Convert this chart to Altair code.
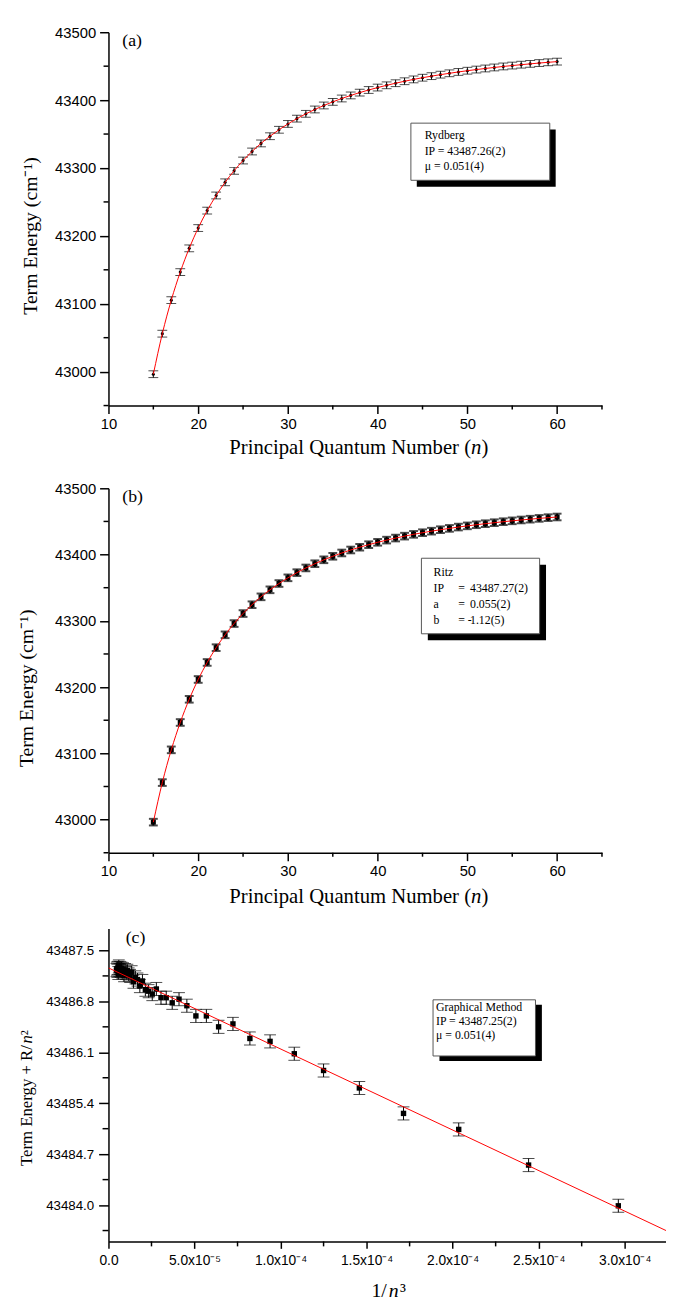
import altair as alt
import pandas as pd

# ---------------- data ----------------
n_values = [15, 16, 17, 18, 19, 20, 21, 22, 23, 24, 25, 26, 27, 28, 29, 30,
            31, 32, 33, 34, 35, 36, 37, 38, 39, 40, 41, 42, 43, 44, 45, 46,
            47, 48, 49, 50, 51, 52, 53, 54, 55, 56, 57, 58, 59, 60]

term_energy = [42996.2, 43055.9, 43105.3, 43146.6, 43181.6, 43211.5, 43237.2, 43259.5,
               43278.9, 43295.9, 43311.0, 43324.3, 43336.2, 43346.8, 43356.3, 43364.9,
               43372.7, 43379.8, 43386.2, 43392.1, 43397.4, 43402.4, 43406.9, 43411.1,
               43414.9, 43418.5, 43421.8, 43424.9, 43427.8, 43430.5, 43433.0, 43435.3,
               43437.5, 43439.5, 43441.5, 43443.3, 43445.0, 43446.6, 43448.1, 43449.6,
               43450.9, 43452.2, 43453.4, 43454.6, 43455.7, 43456.7]
term_energy_err = 5.0

# panel (c): Term energy + R/n^2 for the same n
graph_y = [43483.99, 43484.55, 43485.04, 43485.26, 43485.61, 43485.85, 43486.08, 43486.25,
           43486.29, 43486.49, 43486.45, 43486.60, 43486.60, 43486.74, 43486.83, 43486.78,
           43486.85, 43486.85, 43486.97, 43486.90, 43486.94, 43486.96, 43487.08, 43487.01,
           43487.10, 43487.13, 43487.07, 43487.20, 43487.15, 43487.17, 43487.22, 43487.19,
           43487.23, 43487.16, 43487.24, 43487.20, 43487.25, 43487.22, 43487.26, 43487.23,
           43487.28, 43487.19, 43487.26, 43487.22, 43487.25, 43487.23]
graph_err = 0.09
fit_c_x = [0.0, 3.24e-4]
fit_c_y = [43487.26, 43483.65]

# ticks / labels
x_major_ab = [10, 20, 30, 40, 50, 60]
x_minor_ab = [15, 25, 35, 45, 55, 65]
y_major_ab = [43000, 43100, 43200, 43300, 43400, 43500]
y_minor_ab = [42950, 43050, 43150, 43250, 43350, 43450]
y_major_c = [43484.0, 43484.7, 43485.4, 43486.1, 43486.8, 43487.5]
y_minor_c = [43483.65, 43484.35, 43485.05, 43485.75, 43486.45, 43487.15]
x_major_c = [0.0, 5.0e-5, 1.0e-4, 1.5e-4, 2.0e-4, 2.5e-4, 3.0e-4]
x_minor_c = [2.5e-5, 7.5e-5, 1.25e-4, 1.75e-4, 2.25e-4, 2.75e-4]
x_labels_c = ["0.0", "5.0x10\u207b\u2075", "1.0x10\u207b\u2074", "1.5x10\u207b\u2074",
              "2.0x10\u207b\u2074", "2.5x10\u207b\u2074", "3.0x10\u207b\u2074"]

# texts
title_n_parts = ["Principal Quantum Number (", "n", ")"]
title_c_x_parts = ["1/", "n", "\u00b3"]
title_c_y_parts = ["Term Energy + R/", "n", "\u00b2"]
title_e = "Term Energy (cm\u207b\u00b9)"
legend_a = "Rydberg\nIP = 43487.26(2)\n\u03bc  = 0.051(4)"
legend_b_names = "Ritz\nIP\na\nb"
legend_b_eq = " \n=\n=\n= -"
legend_b_vals = " \n43487.27(2)\n0.055(2)\n1.12(5)"
legend_c = "Graphical Method\nIP = 43487.25(2)\n\u03bc = 0.051(4)"

SERIF = "Liberation Serif"
SANS = "Liberation Sans"

df_ab = pd.DataFrame({"n": n_values, "E": term_energy})
df_ab["lo"] = df_ab["E"] - term_energy_err
df_ab["hi"] = df_ab["E"] + term_energy_err

df_c = pd.DataFrame({"n": n_values, "Y": graph_y})
df_c["x"] = 1.0 / df_c["n"] ** 3
df_c["lo"] = df_c["Y"] - graph_err
df_c["hi"] = df_c["Y"] + graph_err
df_fit = pd.DataFrame({"x": fit_c_x, "y": fit_c_y})


def text_layer(txt, x, y, size, font=SERIF, line_height=None, align="left", baseline="middle",
               italic=False, angle=None):
    kw = dict(font=font, fontSize=size, align=align, baseline=baseline, color="black")
    if italic:
        kw["fontStyle"] = "italic"
    if angle is not None:
        kw["angle"] = angle
    if line_height is not None:
        kw.update(lineBreak="\n", lineHeight=line_height)
    return alt.Chart(pd.DataFrame({"t": [txt]})).mark_text(**kw).encode(
        x=alt.value(x), y=alt.value(y), text="t:N")


def box_layers(x1, x2, y1, y2, shadow_dx, shadow_dy):
    d = pd.DataFrame({"k": [0]})
    shadow = alt.Chart(d).mark_rect(fill="black").encode(
        x=alt.value(x1 + shadow_dx), x2=alt.value(x2 + shadow_dx),
        y=alt.value(y1 + shadow_dy), y2=alt.value(y2 + shadow_dy))
    box = alt.Chart(d).mark_rect(fill="white", stroke="#555555", strokeWidth=1).encode(
        x=alt.value(x1), x2=alt.value(x2), y=alt.value(y1), y2=alt.value(y2))
    return [shadow, box]


def layout_anchor(x, y_top, y_bottom):
    """Invisible rule that fixes the panel's outer extent for the concat layout."""
    return alt.Chart(pd.DataFrame({"k": [0]})).mark_rule(opacity=0, strokeWidth=0).encode(
        x=alt.value(x), y=alt.value(y_top), y2=alt.value(y_bottom))


def minor_ticks(xvals, yvals, xs, ys, x_axis, y_axis, height, xlen, ylen):
    """Minor ticks drawn through the panel's own scales."""
    rx = alt.Chart(pd.DataFrame({"v": xvals})).mark_rule(color="black", strokeWidth=1.5).encode(
        x=alt.X("v:Q", scale=xs, axis=x_axis),
        y=alt.value(height), y2=alt.value(height + xlen))
    ry = alt.Chart(pd.DataFrame({"v": yvals})).mark_rule(color="black", strokeWidth=1.5).encode(
        y=alt.Y("v:Q", scale=ys, axis=y_axis),
        x=alt.value(-ylen), x2=alt.value(0))
    return [rx, ry]


def n_title(x_right, y):
    """'Principal Quantum Number (n)' with an italic n."""
    return [text_layer(title_n_parts[0], x_right, y, 21, align="right"),
            text_layer(title_n_parts[1], x_right, y, 21, italic=True),
            text_layer(title_n_parts[2], x_right + 10.5, y, 21)]


def ab_panel(tag, height, title_x, title_y, xtitle_y, bold, legend_layers, anchor):
    xs = alt.Scale(domain=[10, 65], nice=False, zero=False)
    ys = alt.Scale(domain=[42950, 43500], nice=False, zero=False)
    x_axis = alt.Axis(values=x_major_ab, format="d", tickSize=8, title=None,
                      labelFont=SANS, labelFontSize=15, labelPadding=3)
    y_axis = alt.Axis(values=y_major_ab, format="d", tickSize=9,
                      title=title_e, titleFont=SERIF, titleFontSize=20,
                      titleFontWeight="normal", titleAngle=270,
                      titleX=title_x, titleY=title_y, titleBaseline="middle", titleAlign="center",
                      labelFont=SANS, labelFontSize=15, labelPadding=4)
    X = alt.X("n:Q", scale=xs, axis=x_axis)
    base = alt.Chart(df_ab)
    sw = 2 if bold else 1
    capw = 9 if bold else 10
    err = base.mark_rule(color="black", strokeWidth=sw).encode(
        x=X, y=alt.Y("lo:Q", scale=ys, axis=y_axis), y2="hi:Q")
    cap_lo = base.mark_tick(orient="horizontal", size=capw, thickness=sw, color="black").encode(
        x=X, y=alt.Y("lo:Q", scale=ys, axis=y_axis))
    cap_hi = base.mark_tick(orient="horizontal", size=capw, thickness=sw, color="black").encode(
        x=X, y=alt.Y("hi:Q", scale=ys, axis=y_axis))
    if bold:
        pts = base.mark_square(size=26, color="black", opacity=1)
    else:
        pts = base.mark_circle(size=10, color="black", opacity=1)
    pts = pts.encode(x=X, y=alt.Y("E:Q", scale=ys, axis=y_axis))
    line = base.mark_line(color="red", strokeWidth=1, interpolate="monotone").encode(
        x=X, y=alt.Y("E:Q", scale=ys, axis=y_axis))
    lbl = text_layer(tag, 14, 9, 18)
    mt = minor_ticks(x_minor_ab, y_minor_ab, xs, ys, x_axis, y_axis, height, 4, 5)
    xt = n_title(368.1, height + xtitle_y)
    return alt.layer(err, cap_lo, cap_hi, pts, line, *mt, lbl, *xt, *legend_layers, anchor).properties(
        width=501, height=height)


HA, HB, HC = 379, 370, 317.6

leg_a = box_layers(307, 448, 92.3, 150.3, 6, 6.5) + [
    text_layer(legend_a, 321, 99.8, 12, line_height=15.5, baseline="top")]
pa = ab_panel("(a)", HA, -79, 206.3, 43.3, False, leg_a, layout_anchor(-101, -10, HA + 68.3))

leg_b = box_layers(317.7, 437.7, 71, 147.7, 6.5, 6.5) + [
    text_layer(legend_b_names, 330, 80.5, 12, line_height=16, baseline="top"),
    text_layer(legend_b_eq, 355, 80.5, 12, line_height=16, baseline="top"),
    text_layer(legend_b_vals, 367, 80.5, 12, line_height=16, baseline="top")]
pb = ab_panel("(b)", HB, -83, 202.5, 45, True, leg_b, layout_anchor(-101, -10, HB + 61.7))

# ---------------- panel (c) ----------------
xs_c = alt.Scale(domain=[0, 3.24e-4], nice=False, zero=False)
ys_c = alt.Scale(domain=[43483.5, 43487.8], nice=False, zero=False)
labels_js = "[" + ",".join("'" + s + "'" for s in x_labels_c) + "]"
x_axis_c = alt.Axis(values=x_major_c, tickSize=7, title=None,
                    labelExpr=labels_js + "[round(datum.value / 0.00005)]",
                    labelFont=SANS, labelFontSize=14, labelPadding=5)
y_axis_c = alt.Axis(values=y_major_c, format=".1f", tickSize=10, title=None,
                    labelFont=SANS, labelFontSize=13.5, labelPadding=5)
XC = alt.X("x:Q", scale=xs_c, axis=x_axis_c)
base_c = alt.Chart(df_c)
err_c = base_c.mark_rule(color="black", strokeWidth=1).encode(
    x=XC, y=alt.Y("lo:Q", scale=ys_c, axis=y_axis_c), y2="hi:Q")
caplo_c = base_c.mark_tick(orient="horizontal", size=12, thickness=1, color="black").encode(
    x=XC, y=alt.Y("lo:Q", scale=ys_c, axis=y_axis_c))
caphi_c = base_c.mark_tick(orient="horizontal", size=12, thickness=1, color="black").encode(
    x=XC, y=alt.Y("hi:Q", scale=ys_c, axis=y_axis_c))
pts_c = base_c.mark_square(size=30, color="black", opacity=1).encode(
    x=XC, y=alt.Y("Y:Q", scale=ys_c, axis=y_axis_c))
line_c = alt.Chart(df_fit).mark_line(color="red", strokeWidth=1, clip=True).encode(
    x=XC, y=alt.Y("y:Q", scale=ys_c, axis=y_axis_c))
mt_c = minor_ticks(x_minor_c, y_minor_c, xs_c, ys_c, x_axis_c, y_axis_c, HC, 5, 6)
leg_c = box_layers(329.5, 433.5, 72.3, 129.3, 6.5, 5) + [
    text_layer(legend_c, 332.5, 75, 12, line_height=14, baseline="top")]
titles_c = [
    text_layer(title_c_x_parts[0], 267, HC + 50.7, 20),
    text_layer(title_c_x_parts[1], 284.5, HC + 50.7, 20, italic=True),
    text_layer(title_c_x_parts[2], 296, HC + 50.7, 20),
    text_layer(title_c_y_parts[0], -83, 241, 17, angle=270),
    text_layer(title_c_y_parts[1], -83, 241 - 124.3, 17, angle=270, italic=True),
    text_layer(title_c_y_parts[2], -83, 241 - 124.3 - 8.5, 17, angle=270),
]
pc = alt.layer(err_c, caplo_c, caphi_c, pts_c, line_c, *mt_c, text_layer("(c)", 17.5, 10, 18),
               *titles_c, *leg_c, layout_anchor(-98, -10, HC)).properties(width=566, height=HC)

chart = alt.vconcat(pa, pb, pc, spacing=5).properties(
    padding={"left": 1, "top": 4.7, "right": 0, "bottom": 0}
).configure_view(stroke=None).configure_axis(
    domainColor="black", tickColor="black", labelColor="black", titleColor="black",
    grid=False, labelFont=SANS, titleFont=SERIF, titleFontWeight="normal",
    domainWidth=1.5, tickWidth=1.5, labelFlush=False, labelOverlap=False)

chart.save("out.html", embed_options={"renderer": "svg", "actions": False})
